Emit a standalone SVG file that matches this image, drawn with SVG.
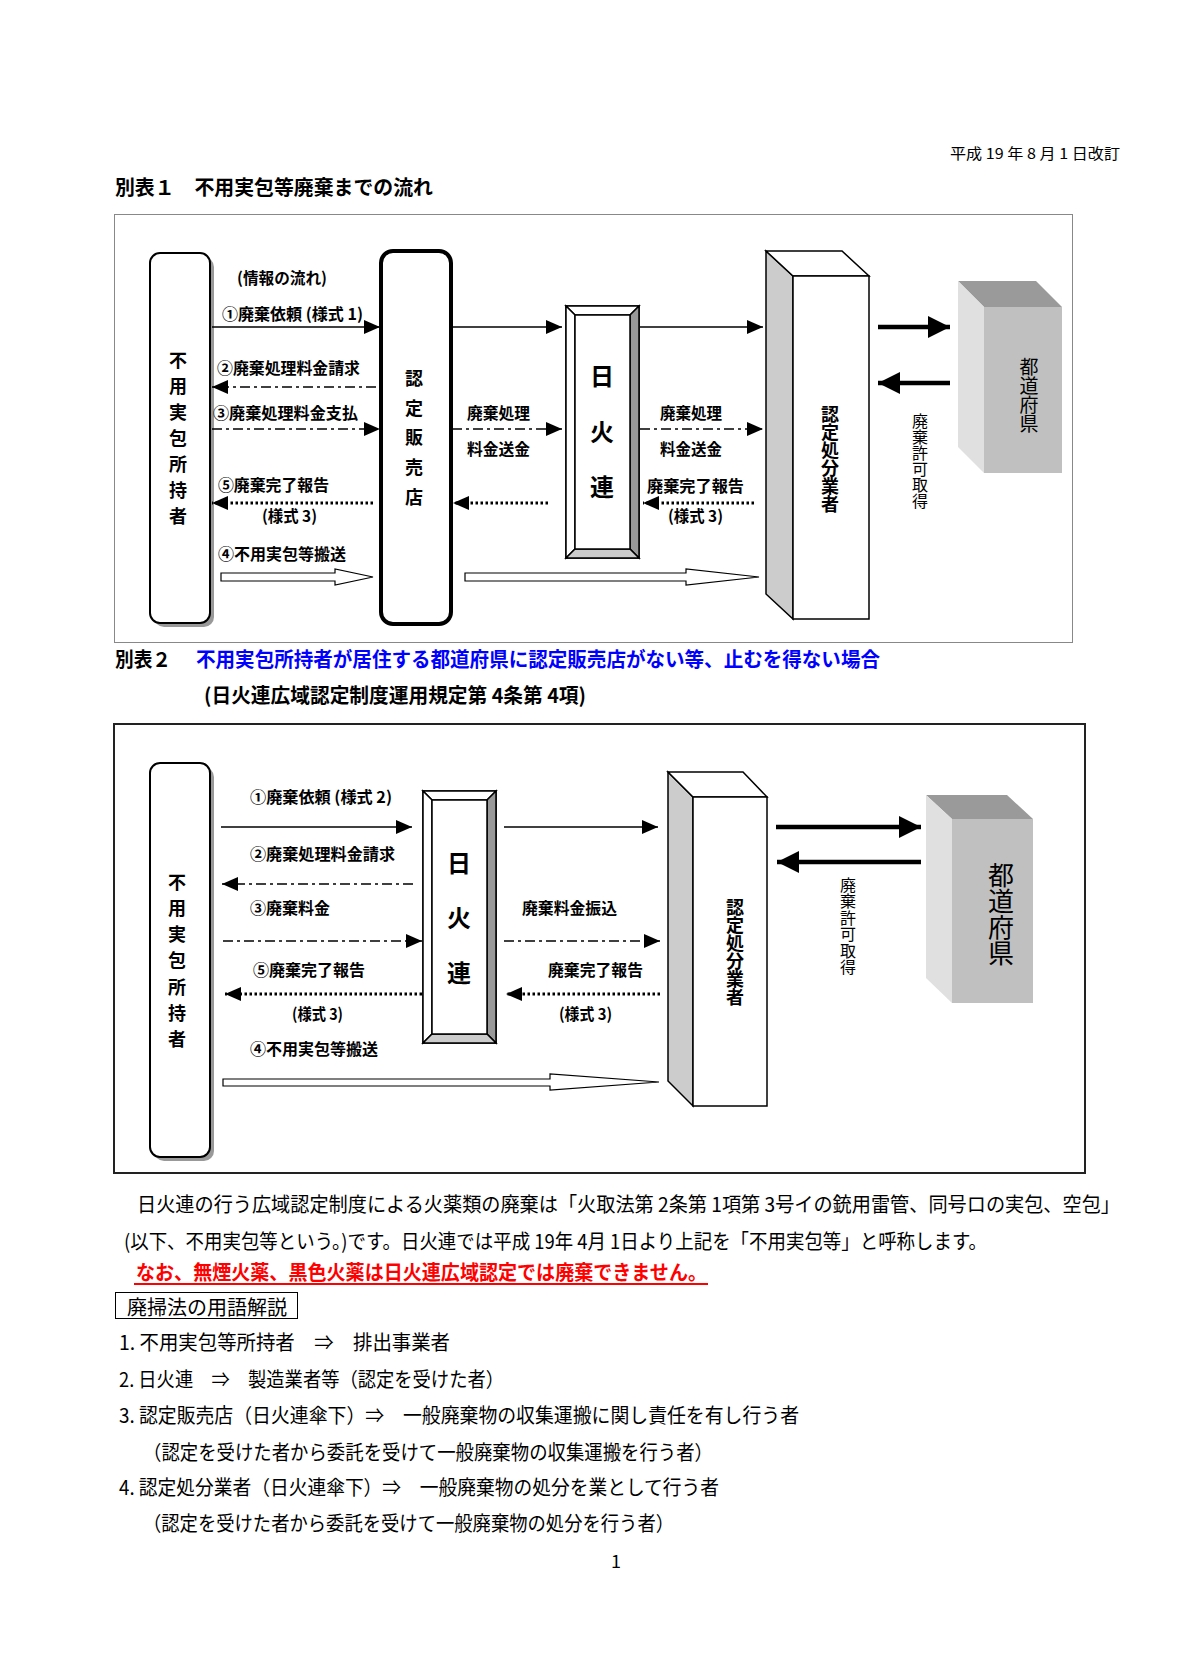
<svg xmlns="http://www.w3.org/2000/svg" width="1200" height="1680" viewBox="0 0 1200 1680">
<style>
text { font-family: "Noto Sans CJK JP", "Noto Sans", sans-serif; dominant-baseline: central; fill: #000; }
.lb { font-size: 16px; font-weight: bold; }
.vt { writing-mode: vertical-rl; text-anchor: start; }
.bd { font-weight: bold; }
.body { font-size: 20px; }
.ttl { font-size: 20px; font-weight: bold; }
.ln { stroke: #000; stroke-width: 1.5; fill: none; }
.dd { stroke: #000; stroke-width: 1.5; fill: none; stroke-dasharray: 10 4 3 4; }
.dt { stroke: #000; stroke-width: 3; fill: none; stroke-dasharray: 2.5 2.5; }
.tk { stroke: #000; stroke-width: 4.5; fill: none; }
.blk { fill: #fff; stroke: #000; stroke-width: 1.2; }
.edge { stroke: #000; stroke-width: 1.5; }
</style>
<defs>
<marker id="ah" markerUnits="userSpaceOnUse" markerWidth="16" markerHeight="14" refX="16" refY="7" orient="auto"><path d="M0,0 L16,7 L0,14 z" fill="#000"/></marker>
<marker id="ahb" markerUnits="userSpaceOnUse" markerWidth="22" markerHeight="22" refX="22" refY="11" orient="auto"><path d="M0,0 L22,11 L0,22 z" fill="#000"/></marker>
</defs>
<rect width="1200" height="1680" fill="#fff"/>

<!-- headings -->
<text x="950" y="152" font-size="15" textLength="170" lengthAdjust="spacingAndGlyphs">平成 19 年 8 月 1 日改訂</text>
<text class="ttl" x="115" y="186" textLength="318" lengthAdjust="spacingAndGlyphs">別表１　不用実包等廃棄までの流れ</text>

<!-- frame 1 -->
<rect x="114.5" y="214.5" width="958" height="428" fill="none" stroke="#888" stroke-width="1"/>

<g id="s1-owner">
<rect x="154" y="257" width="60" height="370" rx="10" fill="#999"/>
<rect x="150" y="253" width="60" height="370" rx="10" fill="#fff" stroke="#000" stroke-width="2"/>
<text class="vt bd" x="178" y="351" font-size="18" letter-spacing="8">不用実包所持者</text>
</g>

<g id="s1-shop">
<rect x="381" y="251" width="70" height="373" rx="12" fill="#fff" stroke="#000" stroke-width="4"/>
<text class="vt bd" x="414" y="369" font-size="18" letter-spacing="11.8">認定販売店</text>
</g>

<g id="s1-nikkaren">
<rect x="566" y="306" width="73" height="252" fill="#fff" class="edge"/>
<polygon points="566,306 639,306 630,315 575,315" fill="#fff" class="edge"/>
<polygon points="566,306 575,315 575,549 566,558" fill="#fff" class="edge"/>
<polygon points="639,306 639,558 630,549 630,315" fill="#999" class="edge"/>
<polygon points="566,558 639,558 630,549 575,549" fill="#ccc" class="edge"/>
<rect x="575" y="315" width="55" height="234" fill="#fff" class="edge"/>
<text class="vt bd" x="602" y="364" font-size="24" letter-spacing="31.5">日火連</text>
</g>

<g id="s1-disposer">
<polygon points="766,251 793,276 793,619 766,594" fill="#ccc" class="edge"/>
<polygon points="766,251 842,251 869,276 793,276" fill="#fff" class="edge"/>
<rect x="793" y="276" width="76" height="343" fill="#fff" class="edge"/>
<text class="vt bd" x="830" y="405" font-size="18">認定処分業者</text>
</g>

<g id="s1-pref">
<polygon points="958,281 1036,281 1062,307 984,307" fill="#9a9a9a"/>
<polygon points="958,281 984,307 984,473 958,447" fill="#e0e0e0"/>
<rect x="984" y="307" width="78" height="166" fill="#c0c0c0"/>
<text class="vt" x="1029" y="357.5" font-size="19">都道府県</text>
</g>

<g id="s1-connectors">
<line class="ln" x1="212" y1="327" x2="380" y2="327" marker-end="url(#ah)"/>
<line class="ln" x1="452" y1="327" x2="562" y2="327" marker-end="url(#ah)"/>
<line class="ln" x1="640" y1="327" x2="763" y2="327" marker-end="url(#ah)"/>
<line class="dd" x1="376" y1="387" x2="212" y2="387" marker-end="url(#ah)"/>
<line class="dd" x1="212" y1="429" x2="380" y2="429" marker-end="url(#ah)"/>
<line class="dd" x1="452" y1="429" x2="562" y2="429" marker-end="url(#ah)"/>
<line class="dd" x1="640" y1="429" x2="763" y2="429" marker-end="url(#ah)"/>
<line class="dt" x1="373" y1="503" x2="212" y2="503" marker-end="url(#ah)"/>
<line class="dt" x1="548" y1="503" x2="453" y2="503" marker-end="url(#ah)"/>
<line class="dt" x1="754" y1="503" x2="643" y2="503" marker-end="url(#ah)"/>
<line class="tk" x1="878" y1="327" x2="950" y2="327" marker-end="url(#ahb)"/>
<line class="tk" x1="950" y1="383" x2="878" y2="383" marker-end="url(#ahb)"/>
<polygon class="blk" points="221,573 335,573 335,569 373,577 335,585 335,581 221,581"/>
<polygon class="blk" points="465,573 686,573 686,569 759,577 686,585 686,581 465,581"/>
<text class="lb" x="237" y="277" textLength="90" lengthAdjust="spacingAndGlyphs">(情報の流れ)</text>
<text class="lb" x="222" y="313" textLength="141" lengthAdjust="spacingAndGlyphs">①廃棄依頼 (様式 1)</text>
<text class="lb" x="217" y="367" textLength="143" lengthAdjust="spacingAndGlyphs">②廃棄処理料金請求</text>
<text class="lb" x="213" y="412" textLength="145" lengthAdjust="spacingAndGlyphs">③廃棄処理料金支払</text>
<text class="lb" x="467" y="412" textLength="63" lengthAdjust="spacingAndGlyphs">廃棄処理</text>
<text class="lb" x="467" y="448" textLength="63" lengthAdjust="spacingAndGlyphs">料金送金</text>
<text class="lb" x="218" y="484" textLength="111" lengthAdjust="spacingAndGlyphs">⑤廃棄完了報告</text>
<text class="lb" x="262" y="515" textLength="55" lengthAdjust="spacingAndGlyphs">(様式 3)</text>
<text class="lb" x="218" y="553" textLength="128" lengthAdjust="spacingAndGlyphs">④不用実包等搬送</text>
<text class="lb" x="660" y="412" textLength="62" lengthAdjust="spacingAndGlyphs">廃棄処理</text>
<text class="lb" x="660" y="448" textLength="62" lengthAdjust="spacingAndGlyphs">料金送金</text>
<text class="lb" x="647" y="485" textLength="97" lengthAdjust="spacingAndGlyphs">廃棄完了報告</text>
<text class="lb" x="668" y="515" textLength="55" lengthAdjust="spacingAndGlyphs">(様式 3)</text>
<text class="vt" x="920" y="413" font-size="16">廃棄許可取得</text>
</g>

<!-- heading 2 -->
<text class="ttl" x="115" y="658" textLength="56" lengthAdjust="spacingAndGlyphs">別表２</text>
<text class="ttl" x="196" y="658" textLength="684" lengthAdjust="spacingAndGlyphs" style="fill:#0000ff">不用実包所持者が居住する都道府県に認定販売店がない等、止むを得ない場合</text>
<text class="ttl" x="204" y="694" textLength="382" lengthAdjust="spacingAndGlyphs">(日火連広域認定制度運用規定第 4条第 4項)</text>

<!-- frame 2 -->
<rect x="114" y="724" width="971" height="449" fill="none" stroke="#222" stroke-width="2"/>

<g id="s2-owner">
<rect x="154" y="767" width="60" height="394" rx="10" fill="#999"/>
<rect x="150" y="763" width="60" height="394" rx="10" fill="#fff" stroke="#000" stroke-width="2"/>
<text class="vt bd" x="177" y="873" font-size="18" letter-spacing="8.2">不用実包所持者</text>
</g>

<g id="s2-nikkaren">
<rect x="423" y="791" width="73" height="252" fill="#fff" class="edge"/>
<polygon points="423,791 496,791 487,800 432,800" fill="#fff" class="edge"/>
<polygon points="423,791 432,800 432,1034 423,1043" fill="#fff" class="edge"/>
<polygon points="496,791 496,1043 487,1034 487,800" fill="#999" class="edge"/>
<polygon points="423,1043 496,1043 487,1034 432,1034" fill="#ccc" class="edge"/>
<rect x="432" y="800" width="55" height="234" fill="#fff" class="edge"/>
<text class="vt bd" x="459" y="851" font-size="24" letter-spacing="31">日火連</text>
</g>

<g id="s2-disposer">
<polygon points="668,772 693,797 693,1106 668,1081" fill="#ccc" class="edge"/>
<polygon points="668,772 743,772 767,797 693,797" fill="#fff" class="edge"/>
<rect x="693" y="797" width="74" height="309" fill="#fff" class="edge"/>
<text class="vt bd" x="735" y="898" font-size="18">認定処分業者</text>
</g>

<g id="s2-pref">
<polygon points="926,795 1007,795 1033,819 952,819" fill="#9a9a9a"/>
<polygon points="926,795 952,819 952,1003 926,978" fill="#e0e0e0"/>
<rect x="952" y="819" width="81" height="184" fill="#c0c0c0"/>
<text class="vt" x="1001" y="862" font-size="26">都道府県</text>
</g>

<g id="s2-connectors">
<line class="ln" x1="221" y1="827" x2="412" y2="827" marker-end="url(#ah)"/>
<line class="ln" x1="504" y1="827" x2="658" y2="827" marker-end="url(#ah)"/>
<line class="dd" x1="413" y1="884" x2="222" y2="884" marker-end="url(#ah)"/>
<line class="dd" x1="223" y1="941" x2="422" y2="941" marker-end="url(#ah)"/>
<line class="dd" x1="504" y1="941" x2="660" y2="941" marker-end="url(#ah)"/>
<line class="dt" x1="422" y1="994" x2="225" y2="994" marker-end="url(#ah)"/>
<line class="dt" x1="660" y1="994" x2="506" y2="994" marker-end="url(#ah)"/>
<line class="tk" x1="776" y1="827" x2="921" y2="827" marker-end="url(#ahb)"/>
<line class="tk" x1="921" y1="862" x2="777" y2="862" marker-end="url(#ahb)"/>
<polygon class="blk" points="223,1079 550,1079 550,1074 659,1082 550,1090 550,1086 223,1086"/>
<text class="lb" x="250" y="796" textLength="142" lengthAdjust="spacingAndGlyphs">①廃棄依頼 (様式 2)</text>
<text class="lb" x="250" y="853" textLength="145" lengthAdjust="spacingAndGlyphs">②廃棄処理料金請求</text>
<text class="lb" x="250" y="907" textLength="80" lengthAdjust="spacingAndGlyphs">③廃棄料金</text>
<text class="lb" x="522" y="907" textLength="95" lengthAdjust="spacingAndGlyphs">廃棄料金振込</text>
<text class="lb" x="253" y="969" textLength="112" lengthAdjust="spacingAndGlyphs">⑤廃棄完了報告</text>
<text class="lb" x="292" y="1013" textLength="51" lengthAdjust="spacingAndGlyphs">(様式 3)</text>
<text class="lb" x="250" y="1048" textLength="128" lengthAdjust="spacingAndGlyphs">④不用実包等搬送</text>
<text class="lb" x="548" y="969" textLength="95" lengthAdjust="spacingAndGlyphs">廃棄完了報告</text>
<text class="lb" x="559" y="1013" textLength="53" lengthAdjust="spacingAndGlyphs">(様式 3)</text>
<text class="vt" x="848" y="877" font-size="16" letter-spacing="0.4">廃棄許可取得</text>
</g>

<!-- body text -->
<text class="body" x="137" y="1203" textLength="983" lengthAdjust="spacingAndGlyphs">日火連の行う広域認定制度による火薬類の廃棄は「火取法第 2条第 1項第 3号イの銃用雷管、同号ロの実包、空包」</text>
<text class="body" x="124" y="1240" textLength="863" lengthAdjust="spacingAndGlyphs">(以下、不用実包等という。)です。日火連では平成 19年 4月 1日より上記を「不用実包等」と呼称します。</text>
<text class="body" x="136" y="1271" textLength="571" lengthAdjust="spacingAndGlyphs" font-weight="bold" style="fill:#ff0000">なお、無煙火薬、黒色火薬は日火連広域認定では廃棄できません。</text>
<line x1="134" y1="1284" x2="708" y2="1284" stroke="#ff0000" stroke-width="2"/>
<rect x="115.5" y="1292.5" width="182" height="26" fill="none" stroke="#000" stroke-width="1"/>
<text class="body" x="127" y="1306" textLength="160" lengthAdjust="spacingAndGlyphs">廃掃法の用語解説</text>
<text class="body" x="119" y="1341" textLength="331" lengthAdjust="spacingAndGlyphs">1. 不用実包等所持者　⇒　排出事業者</text>
<text class="body" x="119" y="1378" textLength="385" lengthAdjust="spacingAndGlyphs">2. 日火連　⇒　製造業者等（認定を受けた者）</text>
<text class="body" x="119" y="1414" textLength="680" lengthAdjust="spacingAndGlyphs">3. 認定販売店（日火連傘下）⇒　一般廃棄物の収集運搬に関し責任を有し行う者</text>
<text class="body" x="143" y="1451" textLength="570" lengthAdjust="spacingAndGlyphs">（認定を受けた者から委託を受けて一般廃棄物の収集運搬を行う者）</text>
<text class="body" x="119" y="1486" textLength="600" lengthAdjust="spacingAndGlyphs">4. 認定処分業者（日火連傘下）⇒　一般廃棄物の処分を業として行う者</text>
<text class="body" x="143" y="1522" textLength="531" lengthAdjust="spacingAndGlyphs">（認定を受けた者から委託を受けて一般廃棄物の処分を行う者）</text>
<text x="616" y="1560" font-size="18" text-anchor="middle">1</text>
</svg>
